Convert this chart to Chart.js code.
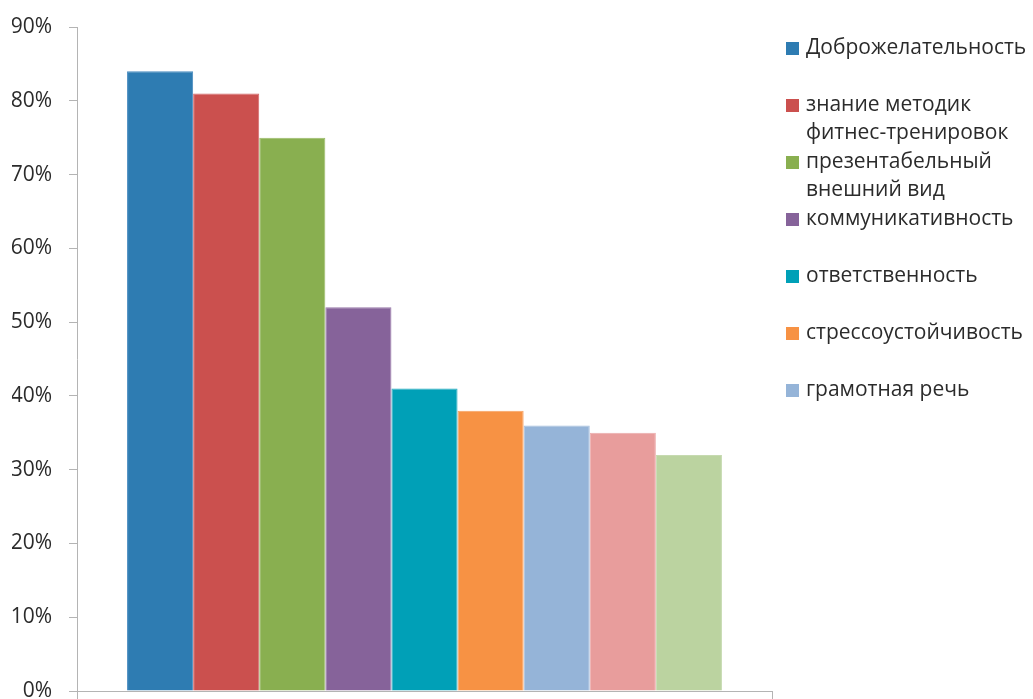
<!DOCTYPE html>
<html>
<head>
<meta charset="utf-8">
<script src="https://cdn.jsdelivr.net/npm/chart.js@4/dist/chart.umd.min.js"></script>
<style>
  html, body { margin: 0; padding: 0; background: #fff; }
  #wrap { width: 1033px; height: 699px; }
</style>
</head>
<body>
<div id="wrap"><canvas id="qualities"></canvas></div>
<script>
// Качества инструктора, % респондентов
var qualityNames = [
  'Доброжелательность',
  'знание методик\nфитнес-тренировок',
  'презентабельный\nвнешний вид',
  'коммуникативность',
  'ответственность',
  'стрессоустойчивость',
  'грамотная речь',
  '',
  ''
];
var qualityShares = [84, 81, 75, 52, 41, 38, 36, 35, 32];
var barColors = ['#2E7CB2', '#CB504E', '#89AF50', '#86639A', '#00A0B7', '#F79244', '#95B4D8', '#E89D9C', '#BBD3A0'];
var barEdges = ['#4A8DC0', '#D4676A', '#9BBC68', '#9778A8', '#26ACC0', '#F8A062', '#A4BFDE', '#ECABAA', '#C6DAB0'];
var yTicks = [0, 10, 20, 30, 40, 50, 60, 70, 80, 90];

var fontFamily = '"Open Sans", "Noto Sans", sans-serif';
var textColor = '#2B2B2B';
var axisGray = '#B4B4B4';

var datasets = qualityNames.map(function (name, i) {
  return {
    label: name,
    data: [qualityShares[i]],
    backgroundColor: barColors[i],
    borderColor: barEdges[i],
    borderWidth: 1,
    categoryPercentage: 0.856,
    barPercentage: 1
  };
});

// legend drawn in fixed slots, long names wrap onto a second line
var slotLegend = {
  id: 'slotLegend',
  afterDraw: function (chart) {
    var ctx = chart.ctx;
    var top = 48, step = 57, lineGap = 28;
    var row = 0;
    ctx.save();
    ctx.font = '21px ' + fontFamily;
    ctx.textBaseline = 'middle';
    chart.data.datasets.forEach(function (ds) {
      if (!ds.label) return;
      var y = top + row * step;
      ctx.fillStyle = ds.backgroundColor;
      ctx.fillRect(786, y - 6, 13, 13);
      ctx.fillStyle = textColor;
      ds.label.split('\n').forEach(function (line, k) {
        ctx.fillText(line, 806, y + k * lineGap);
      });
      row++;
    });
    ctx.restore();
  }
};

new Chart(document.getElementById('qualities'), {
  type: 'bar',
  data: { labels: [''], datasets: datasets },
  options: {
    responsive: true,
    maintainAspectRatio: false,
    animation: false,
    layout: { padding: { top: 27, left: 12, right: 261, bottom: 0 } },
    plugins: { legend: { display: false }, tooltip: { enabled: false } },
    scales: {
      x: {
        offset: true,
        grid: { drawOnChartArea: false, color: axisGray, tickLength: 8 },
        border: { color: axisGray, width: 1 },
        ticks: { display: false },
        afterFit: function (axis) { axis.height = 8; }
      },
      y: {
        min: 0,
        max: 90,
        afterBuildTicks: function (axis) {
          axis.ticks = yTicks.map(function (v) { return { value: v }; });
        },
        afterFit: function (axis) {
          axis.width = 65;
          axis.paddingTop = 0;
          axis.paddingBottom = 0;
        },
        grid: { drawOnChartArea: false, color: axisGray, tickLength: 8 },
        border: { color: axisGray, width: 1 },
        ticks: {
          padding: 17,
          color: textColor,
          font: { family: fontFamily, size: 21 },
          callback: function (v) { return v + '%'; }
        }
      }
    }
  },
  plugins: [slotLegend]
});
</script>
</body>
</html>
